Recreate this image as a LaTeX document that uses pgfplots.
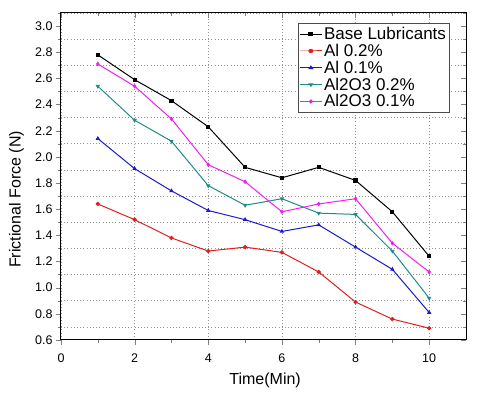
\documentclass[border=0pt]{standalone}
\usepackage{pgfplots}
\pgfplotsset{compat=1.18}
\usepackage{fontspec}
\setmainfont{Liberation Sans}
\definecolor{cRed}{HTML}{E0201F}
\definecolor{cBlue}{HTML}{1A1AC8}
\definecolor{cTeal}{HTML}{1E8C86}
\definecolor{cMag}{HTML}{F020F0}

\pgfplotsset{frame/.style={
  scale only axis,
  width=405pt, height=327pt,
  xmin=0, xmax=11, ymin=0.6, ymax=3.1,
  xtick={0,2,4,6,8,10},
  minor xtick={1,3,5,7,9},
  ytick={0.6,0.8,...,3.01},
  minor ytick={0.7,0.9,...,3.0},
  major tick length=5pt, minor tick length=3pt,
  axis line style={line width=1pt},
}}

\begin{document}
\begin{tikzpicture}
\begin{axis}[
  frame,
  /pgf/number format/fixed,
  /pgf/number format/fixed zerofill,
  /pgf/number format/precision=1,
  /pgf/number format/assume math mode=true,
  xticklabel={\pgfmathprintnumber[precision=0,fixed zerofill=false]{\tick}},
  tick label style={font=\fontsize{12.5}{14}\selectfont},
  xticklabel style={yshift=-5pt},
  tick align=outside,
  xtick pos=left, ytick pos=left,
  xmajorgrids, yminorgrids,
  grid style={draw=gray!85, dash pattern=on 1pt off 2.2pt, line width=0.8pt},
  minor grid style={draw=gray!85, dash pattern=on 1pt off 2.2pt, line width=0.8pt},
  xlabel={Time(Min)}, ylabel={Frictional Force (N)},
  label style={font=\fontsize{16}{18}\selectfont},
  xlabel style={at={(axis description cs:0.504,-0.122)}, anchor=center},
  ylabel style={at={(axis description cs:-0.11,0.43)}, anchor=center},
  legend style={at={(rel axis cs:0.585,0.968)}, anchor=north west,
    font=\fontsize{17}{18.5}\selectfont, draw=black!70, line width=0.6pt,
    row sep=-1pt, inner sep=1.5pt},
  legend cell align=left,
  every axis plot/.append style={line width=1pt, mark size=1.6pt},
  legend image post style={xscale=1.25},
]
\addplot[black, mark=square*] coordinates {(1,2.78) (2,2.59) (3,2.43) (4,2.23) (5,1.92) (6,1.84) (7,1.92) (8,1.82) (9,1.58) (10,1.24)};
\addplot[cRed, mark=*] coordinates {(1,1.64) (2,1.52) (3,1.38) (4,1.28) (5,1.31) (6,1.27) (7,1.12) (8,0.89) (9,0.76) (10,0.69)};
\addplot[cBlue, mark=triangle*] coordinates {(1,2.14) (2,1.91) (3,1.74) (4,1.59) (5,1.52) (6,1.43) (7,1.48) (8,1.31) (9,1.14) (10,0.81)};
\addplot[cTeal, mark=triangle*, mark options={rotate=180}] coordinates {(1,2.54) (2,2.28) (3,2.12) (4,1.78) (5,1.63) (6,1.68) (7,1.57) (8,1.56) (9,1.28) (10,0.92)};
\addplot[cMag, mark=diamond*] coordinates {(1,2.71) (2,2.54) (3,2.29) (4,1.94) (5,1.81) (6,1.58) (7,1.64) (8,1.68) (9,1.34) (10,1.12)};
\legend{Base Lubricants, Al 0.2\%, Al 0.1\%, Al2O3 0.2\%, Al2O3 0.1\%}
\end{axis}
% top and right axes with inward ticks
\begin{axis}[
  frame,
  axis x line*=top, axis y line*=right,
  tick align=inside,
  xticklabels={}, yticklabels={},
]
\end{axis}
\path (current axis.south west) ++(-61pt,-53pt) coordinate (bb1);
\path (current axis.north east) ++(14pt,13pt) coordinate (bb2);
\useasboundingbox (bb1) rectangle (bb2);
\end{tikzpicture}
\end{document}
